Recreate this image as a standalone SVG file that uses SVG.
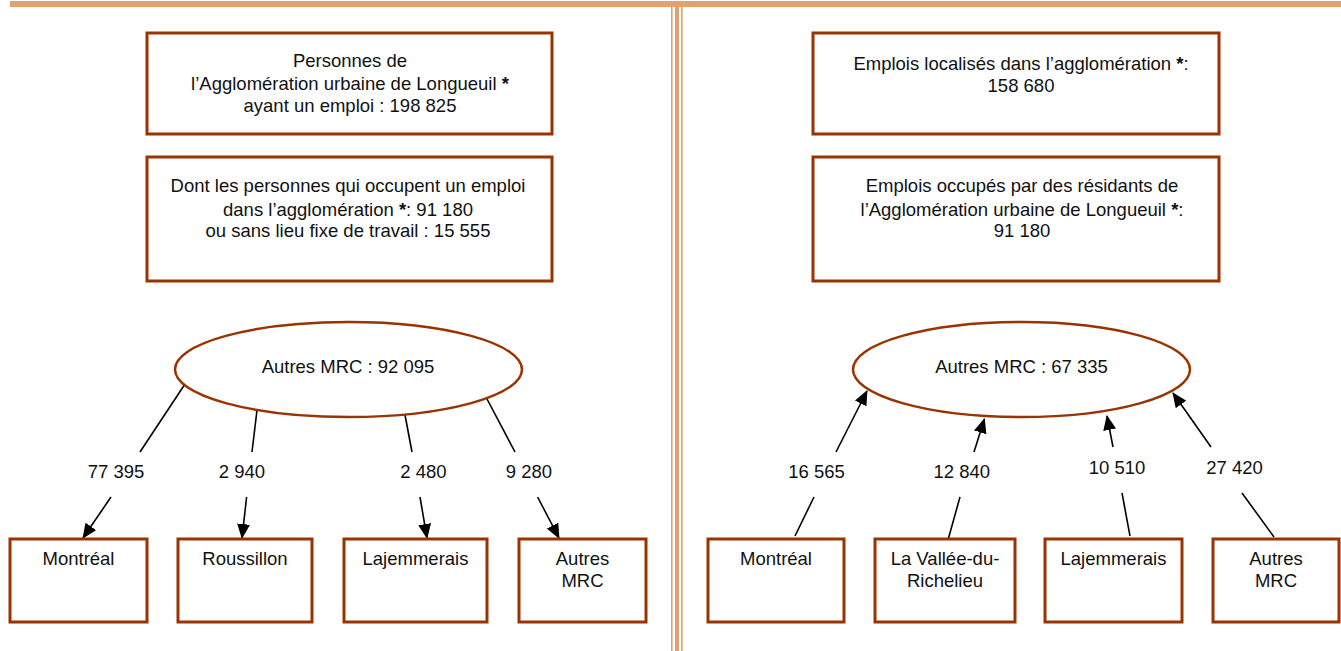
<svg xmlns="http://www.w3.org/2000/svg" width="1341" height="651" viewBox="0 0 1341 651">
<style>
.box{fill:#fff;stroke:#993300;stroke-width:3}
.ell{fill:#fff;stroke:#993300;stroke-width:2.5}
text{font-family:"Liberation Sans",Arial,sans-serif;font-size:18.5px;fill:#111;text-anchor:middle}
.b{font-weight:bold}
.ln{stroke:#000;stroke-width:1.6;fill:none}
.ar{stroke:#000;stroke-width:1.6;fill:none;marker-end:url(#ah)}
.deco{fill:#DFA270}
</style>
<defs>
<marker id="ah" markerUnits="userSpaceOnUse" markerWidth="15" markerHeight="13" viewBox="0 0 15 13" refX="14" refY="6.5" orient="auto">
<path d="M0,0 L15,6.5 L0,13 z" fill="#000"/>
</marker>
</defs>
<g id="decor">
<rect class="deco" x="10" y="1" width="1331" height="6"/>
<rect class="deco" x="671" y="7" width="1.6" height="644"/>
<rect class="deco" x="675" y="7" width="4" height="644"/>
<rect class="deco" x="681" y="7" width="1.6" height="644"/>
</g>
<g id="connectors">
<line class="ln" x1="185" y1="384" x2="140" y2="452"/>
<line class="ar" x1="111" y1="497" x2="83" y2="538"/>
<line class="ln" x1="257" y1="410" x2="252" y2="452"/>
<line class="ar" x1="246.6" y1="497" x2="242" y2="538"/>
<line class="ln" x1="405" y1="415" x2="412" y2="452"/>
<line class="ar" x1="420" y1="497" x2="427" y2="538"/>
<line class="ln" x1="487" y1="399" x2="515" y2="452"/>
<line class="ar" x1="537.6" y1="497" x2="559" y2="538"/>
<line class="ln" x1="814" y1="497" x2="795" y2="536"/>
<line class="ar" x1="836" y1="452" x2="867" y2="391"/>
<line class="ln" x1="960" y1="497" x2="948" y2="540"/>
<line class="ar" x1="974" y1="452" x2="984.4" y2="419"/>
<line class="ln" x1="1122" y1="493" x2="1130" y2="536"/>
<line class="ar" x1="1113" y1="447" x2="1107" y2="416"/>
<line class="ln" x1="1242" y1="493" x2="1274" y2="537"/>
<line class="ar" x1="1211" y1="447" x2="1173" y2="393"/>
<text x="116" y="478">77 395</text>
<text x="242" y="478">2 940</text>
<text x="423.5" y="478">2 480</text>
<text x="529" y="478">9 280</text>
<text x="816.6" y="478">16 565</text>
<text x="961.8" y="478">12 840</text>
<text x="1117" y="474">10 510</text>
<text x="1234.6" y="474">27 420</text>
</g>
<g id="box-personnes">
<rect class="box" x="147" y="33" width="405" height="101"/>
<text x="350" y="67">Personnes de</text>
<text x="350" y="90">l’Agglomération urbaine de Longueuil <tspan class="b">*</tspan></text>
<text x="350" y="112">ayant un emploi : 198 825</text>
</g>
<g id="box-dont">
<rect class="box" x="147" y="157" width="405" height="124"/>
<text x="348" y="192">Dont les personnes qui occupent un emploi</text>
<text x="348" y="216">dans l’agglomération <tspan class="b">*</tspan>: 91 180</text>
<text x="348" y="237">ou sans lieu fixe de travail : 15 555</text>
</g>
<g id="ell-left">
<ellipse class="ell" cx="348.5" cy="369.5" rx="173.5" ry="47.5"/>
<text x="348" y="373">Autres MRC : 92 095</text>
</g>
<g id="box-l-montreal">
<rect class="box" x="10" y="539" width="137" height="83"/>
<text x="78.5" y="565">Montréal</text>
</g>
<g id="box-l-roussillon">
<rect class="box" x="178" y="539" width="134" height="83"/>
<text x="245" y="565">Roussillon</text>
</g>
<g id="box-l-lajemmerais">
<rect class="box" x="344" y="539" width="143" height="83"/>
<text x="415.5" y="565">Lajemmerais</text>
</g>
<g id="box-l-autres">
<rect class="box" x="519" y="539" width="127" height="83"/>
<text x="582.5" y="565">Autres</text>
<text x="582.5" y="587">MRC</text>
</g>
<g id="box-emplois">
<rect class="box" x="813" y="33" width="406" height="101"/>
<text x="1021" y="70">Emplois localisés dans l’agglomération <tspan class="b">*</tspan>:</text>
<text x="1021" y="92">158 680</text>
</g>
<g id="box-occupes">
<rect class="box" x="813" y="157" width="406" height="124"/>
<text x="1022" y="192">Emplois occupés par des résidants de</text>
<text x="1022" y="216">l’Agglomération urbaine de Longueuil <tspan class="b">*</tspan>:</text>
<text x="1022" y="237">91 180</text>
</g>
<g id="ell-right">
<ellipse class="ell" cx="1021.5" cy="369.5" rx="168.5" ry="47.5"/>
<text x="1021.5" y="373">Autres MRC : 67 335</text>
</g>
<g id="box-r-montreal">
<rect class="box" x="708" y="539" width="136" height="83"/>
<text x="776" y="565">Montréal</text>
</g>
<g id="box-r-vallee">
<rect class="box" x="875" y="539" width="140" height="83"/>
<text x="945" y="565">La Vallée-du-</text>
<text x="945" y="587">Richelieu</text>
</g>
<g id="box-r-lajemmerais">
<rect class="box" x="1045" y="539" width="137" height="83"/>
<text x="1113.5" y="565">Lajemmerais</text>
</g>
<g id="box-r-autres">
<rect class="box" x="1213" y="539" width="126" height="83"/>
<text x="1276" y="565">Autres</text>
<text x="1276" y="587">MRC</text>
</g>
</svg>
